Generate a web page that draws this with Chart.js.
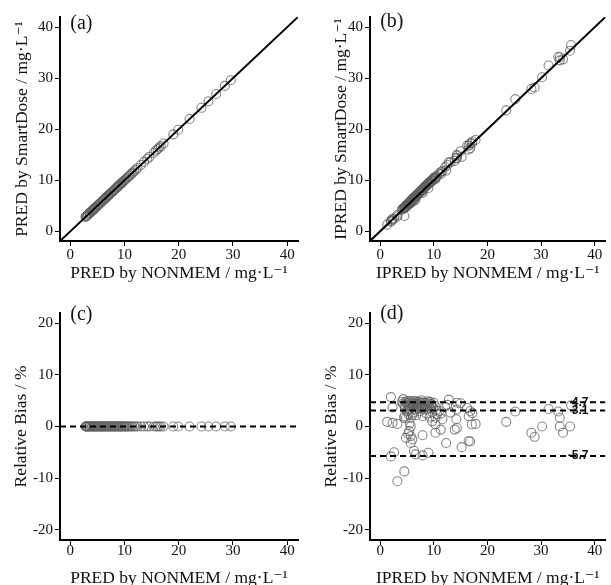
<!DOCTYPE html>
<html>
<head>
<meta charset="utf-8">
<script src="https://cdn.jsdelivr.net/npm/chart.js@4.4.0/dist/chart.umd.min.js"></script>
<style>
  body { margin: 0; background: #fff; width: 611px; height: 585px; position: relative; overflow: hidden; }
  canvas { position: absolute; }
</style>
</head>
<body>
<canvas id="pa" width="305" height="290" style="left:0;top:0"></canvas>
<canvas id="pb" width="306" height="290" style="left:305px;top:0"></canvas>
<canvas id="pc" width="305" height="305" style="left:0;top:290px"></canvas>
<canvas id="pd" width="306" height="305" style="left:305px;top:290px"></canvas>
<script>
// axis ranges and ticks
const concMin = -1.9, concMax = 42;
const biasMin = -22, biasMax = 22;
const concTicks = [0, 10, 20, 30, 40];
const biasTicks = [-20, -10, 0, 10, 20];

// Bland-Altman style reference lines in (d)
const biasLines = [4.7, 3.1, -5.7];
const biasLabels = ['4.7', '3.1', '-5.7'];

// population predictions (a, c)
const predNonmem = [
  2.8, 2.9, 3.0, 3.0, 3.2, 3.3, 3.5, 3.6, 3.6, 3.8,
  4.0, 4.1, 4.3, 4.4, 4.4, 4.6, 4.8, 4.9, 5.1, 5.2,
  5.3, 5.5, 5.6, 5.8, 5.9, 6.1, 6.2, 6.4, 6.5, 6.7,
  6.8, 7.0, 7.1, 7.3, 7.4, 7.6, 7.8, 7.9, 8.1, 8.2,
  8.4, 8.6, 8.7, 8.9, 9.0, 9.2, 9.4, 9.5, 9.7, 9.9,
  10.0, 10.2, 10.4, 10.6, 10.8, 11.0, 11.3, 11.5, 11.8, 12.1,
  12.4, 13.0, 13.6, 14.2, 14.6, 15.4, 15.8, 16.1, 16.4, 16.7,
  17.2, 19.0, 19.9, 22.0, 24.2, 25.5, 26.9, 28.5, 29.6
];
const predSmartDose = [
  2.8, 2.9, 3.0, 3.0, 3.2, 3.3, 3.5, 3.6, 3.6, 3.8,
  4.0, 4.1, 4.3, 4.4, 4.4, 4.6, 4.8, 4.9, 5.1, 5.2,
  5.3, 5.5, 5.6, 5.8, 5.9, 6.1, 6.2, 6.4, 6.5, 6.7,
  6.8, 7.0, 7.1, 7.3, 7.4, 7.6, 7.8, 7.9, 8.1, 8.2,
  8.4, 8.6, 8.7, 8.9, 9.0, 9.2, 9.4, 9.5, 9.7, 9.9,
  10.0, 10.2, 10.4, 10.6, 10.8, 11.0, 11.3, 11.5, 11.8, 12.1,
  12.4, 13.0, 13.6, 14.2, 14.6, 15.4, 15.8, 16.1, 16.4, 16.7,
  17.2, 19.0, 19.9, 22.0, 24.2, 25.5, 26.9, 28.5, 29.6
];
const predBias = [
  0, 0, 0, 0, 0, 0, 0, 0, 0, 0,
  0, 0, 0, 0, 0, 0, 0, 0, 0, 0,
  0, 0, 0, 0, 0, 0, 0, 0, 0, 0,
  0, 0, 0, 0, 0, 0, 0, 0, 0, 0,
  0, 0, 0, 0, 0, 0, 0, 0, 0, 0,
  0, 0, 0, 0, 0, 0, 0, 0, 0, 0,
  0, 0, 0, 0, 0, 0, 0, 0, 0, 0,
  0, 0, 0, 0, 0, 0, 0, 0, 0
];

// individual predictions (b, d)
const ipredNonmem = [
  1.3, 2.0, 2.3, 2.3, 3.2, 2.0, 2.6, 4.5, 3.2,
  4.0, 4.3, 4.5, 4.6, 4.9, 5.0, 5.2, 5.3, 5.5, 5.6,
  5.8, 5.9, 6.0, 6.1, 6.3, 6.4, 6.5, 6.6, 6.8, 6.9,
  7.0, 7.1, 7.2, 7.3, 7.5, 7.6, 7.7, 7.8, 8.0, 8.1,
  8.2, 8.4, 8.5, 8.7, 8.8, 9.0, 9.1, 9.3, 9.4, 9.6,
  9.8, 10.0, 10.2, 10.4,
  4.2, 4.7, 5.4, 6.2, 7.4, 7.9, 8.9, 9.5, 6.7, 5.1,
  4.5, 4.8, 5.3, 5.7, 6.2, 6.7, 7.4, 7.9, 8.6, 9.2,
  9.7, 10.3, 10.6, 11.0, 11.3, 5.0, 6.0, 10.3, 9.7,
  5.7, 5.4, 4.8, 5.7, 5.7, 5.2, 6.0, 7.9, 10.3, 11.3, 12.3, 4.5, 5.5,
  6.3, 6.6, 7.9, 9.0,
  11.6, 12.8, 12.1, 13.1, 14.3, 14.3, 14.2, 14.3, 13.9, 15.2,
  16.5, 16.8, 16.5, 16.8, 16.2, 17.1, 17.8, 12.5, 15.0, 17.2,
  23.5, 25.2, 28.2, 28.8, 30.2, 31.4, 33.2, 33.5, 33.5, 34.1, 35.4, 35.6
];
const ipredSmartDose = [
  1.3, 2.1, 2.4, 2.3, 3.2, 1.9, 2.5, 3.0, 2.9,
  4.2, 4.5, 4.7, 4.8, 5.1, 5.2, 5.4, 5.5, 5.8, 5.8,
  6.0, 6.2, 6.2, 6.4, 6.6, 6.7, 6.7, 6.9, 7.1, 7.2,
  7.3, 7.3, 7.5, 7.6, 7.8, 7.9, 8.1, 8.1, 8.3, 8.5,
  8.6, 8.7, 8.9, 9.1, 9.1, 9.4, 9.5, 9.7, 9.7, 10.0,
  10.2, 10.5, 10.6, 10.7,
  4.4, 4.9, 5.6, 6.5, 7.7, 8.2, 9.3, 9.9, 6.9, 5.3,
  4.6, 4.9, 5.4, 5.8, 6.4, 6.8, 7.6, 8.1, 8.8, 9.4,
  10.0, 10.5, 10.9, 11.3, 11.6, 5.1, 6.1, 10.3, 9.8,
  5.7, 5.4, 4.7, 5.6, 5.5, 5.1, 5.9, 7.8, 10.2, 11.2, 11.9, 4.6, 5.5,
  6.0, 6.2, 7.5, 8.5,
  11.8, 13.5, 12.6, 13.5, 15.0, 14.8, 14.4, 14.3, 13.8, 14.6,
  16.0, 16.3, 16.8, 17.3, 16.8, 17.2, 17.9, 13.0, 15.7, 17.6,
  23.7, 25.9, 27.9, 28.2, 30.2, 32.5, 34.2, 34.1, 33.5, 33.7, 35.4, 36.5
];
const ipredBias = [
  0.9, 5.7, 3.7, 0.7, 0.5, -5.8, -5.0, -8.7, -10.6,
  4.8, 5.3, 4.2, 3.6, 4.9, 4.4, 3.9, 4.7, 5.0, 3.4,
  4.3, 4.8, 3.8, 4.5, 5.0, 4.1, 3.3, 4.6, 4.9, 3.9,
  4.4, 3.5, 4.8, 4.2, 3.7, 4.5, 5.1, 4.0, 3.4, 4.7,
  4.3, 3.8, 4.6, 4.1, 3.3, 4.5, 3.9, 4.8, 3.5, 4.2,
  3.6, 4.6, 4.0, 3.1,
  4.4, 4.7, 4.1, 4.3, 4.6, 3.6, 4.9, 4.4, 3.6, 3.0,
  2.0, 1.6, 2.4, 1.8, 2.7, 2.2, 2.9, 2.0, 2.5, 1.9,
  2.8, 1.7, 2.4, 3.0, 2.5, 2.9, 2.3, 0.4, 1.0,
  0.0, -0.9, -2.2, -1.9, -3.2, -1.4, -2.5, -1.7, -1.2, -0.6, -3.2, 1.7, 0.6,
  -4.7, -5.4, -5.6, -5.1,
  1.4, 5.2, 3.8, 2.7, 4.6, 3.3, 1.4, -0.3, -0.6, -4.0,
  -2.8, -2.9, 2.0, 3.0, 3.6, 0.4, 0.5, 4.2, 4.5, 2.6,
  0.9, 2.9, -1.2, -2.0, 0.0, 3.4, 2.9, 1.7, 0.0, -1.2, 0.0, 4.1
];

const SERIF = '"Liberation Serif", "DejaVu Serif", serif';

function toPoints(xs, ys) {
  return xs.map((x, i) => ({ x: x, y: ys[i] }));
}

// panel letter + optional line labels, drawn in data coordinates
const panelText = {
  id: 'panelText',
  afterDatasetsDraw(chart, args, opts) {
    const { ctx, chartArea, scales } = chart;
    ctx.save();
    ctx.fillStyle = '#111';
    ctx.textBaseline = 'middle';
    ctx.textAlign = 'left';
    ctx.font = '20px ' + SERIF;
    ctx.fillText(opts.letter, scales.x.getPixelForValue(0), chartArea.top + opts.letterDy);
    if (opts.lineLabels) {
      ctx.font = 'bold 12px "Liberation Sans", Arial, sans-serif';
      ctx.textAlign = 'right';
      opts.lineLabels.forEach((t, i) => {
        ctx.fillText(t, chartArea.right - 17, scales.y.getPixelForValue(biasLines[i]));
      });
    }
    ctx.restore();
  }
};

function makePanel(id, p) {
  const refSets = p.refLines.map(seg => ({
    data: seg,
    showLine: true,
    pointRadius: 0,
    borderColor: '#000',
    borderWidth: 2,
    borderDash: p.dash || []
  }));
  const obs = {
    data: toPoints(p.xs, p.ys),
    pointRadius: 4.5,
    pointBorderWidth: 1.1,
    pointBorderColor: 'rgba(95,95,95,0.75)',
    pointBackgroundColor: 'rgba(0,0,0,0)'
  };
  const tickFont = { family: SERIF, size: 15 };
  const titleFont = { family: SERIF, size: 17.5 };
  return new Chart(document.getElementById(id), {
    type: 'scatter',
    data: { datasets: refSets.concat([obs]) },
    options: {
      responsive: false,
      animation: false,
      events: [],
      layout: { padding: { top: p.top, right: p.right, left: 0, bottom: 0 } },
      plugins: {
        legend: { display: false },
        tooltip: { enabled: false },
        panelText: { letter: p.letter, letterDy: p.letterDy, lineLabels: p.lineLabels }
      },
      scales: {
        x: {
          type: 'linear',
          min: concMin, max: concMax,
          afterBuildTicks: s => { s.ticks = concTicks.map(v => ({ value: v })); },
          afterFit: s => { s.height = p.xh; },
          ticks: { font: tickFont, color: '#111', padding: p.xPad, maxRotation: 0 },
          grid: { drawOnChartArea: false, drawTicks: true, tickLength: 5, color: '#000', lineWidth: 1 },
          border: { display: true, color: '#000', width: 2 },
          title: { display: true, text: p.xTitle, font: titleFont, color: '#111', padding: { top: 0, bottom: 6 } }
        },
        y: {
          type: 'linear',
          min: p.yMin, max: p.yMax,
          afterBuildTicks: s => { s.ticks = p.yTicks.map(v => ({ value: v })); },
          afterFit: s => { s.width = p.yw; },
          ticks: { font: tickFont, color: '#111', padding: 2 },
          grid: { drawOnChartArea: false, drawTicks: true, tickLength: 5, color: '#000', lineWidth: 1 },
          border: { display: true, color: '#000', width: 2 },
          title: { display: true, text: p.yTitle, font: titleFont, color: '#111', padding: { top: p.yTitlePad, bottom: 0 } }
        }
      }
    },
    plugins: [panelText]
  });
}

const identity = [{ x: concMin, y: concMin }, { x: concMax, y: concMax }];

makePanel('pa', {
  xs: predNonmem, ys: predSmartDose, refLines: [identity],
  yMin: concMin, yMax: concMax, yTicks: concTicks,
  top: 17, right: 7, xh: 49, yw: 60, xPad: 0.5, yTitlePad: 12, letterDy: 7,
  letter: '(a)',
  xTitle: 'PRED by NONMEM / mg·L⁻¹', yTitle: 'PRED by SmartDose / mg·L⁻¹'
});

makePanel('pb', {
  xs: ipredNonmem, ys: ipredSmartDose, refLines: [identity],
  yMin: concMin, yMax: concMax, yTicks: concTicks,
  top: 17, right: 2, xh: 49, yw: 65, xPad: 0.5, yTitlePad: 26, letterDy: 5,
  letter: '(b)',
  xTitle: 'IPRED by NONMEM / mg·L⁻¹', yTitle: 'IPRED by SmartDose / mg·L⁻¹'
});

makePanel('pc', {
  xs: predNonmem, ys: predBias,
  refLines: [[{ x: concMin, y: 0 }, { x: concMax, y: 0 }]], dash: [6, 4],
  yMin: biasMin, yMax: biasMax, yTicks: biasTicks,
  top: 23, right: 7, xh: 55, yw: 60, xPad: -2.5, yTitlePad: 11, letterDy: 2,
  letter: '(c)',
  xTitle: 'PRED by NONMEM / mg·L⁻¹', yTitle: 'Relative Bias / %'
});

makePanel('pd', {
  xs: ipredNonmem, ys: ipredBias,
  refLines: biasLines.map(v => [{ x: concMin, y: v }, { x: concMax, y: v }]), dash: [6, 4],
  yMin: biasMin, yMax: biasMax, yTicks: biasTicks,
  top: 23, right: 2, xh: 55, yw: 65, xPad: -2.5, yTitlePad: 16, letterDy: 1,
  letter: '(d)', lineLabels: biasLabels,
  xTitle: 'IPRED by NONMEM / mg·L⁻¹', yTitle: 'Relative Bias / %'
});
</script>
</body>
</html>
